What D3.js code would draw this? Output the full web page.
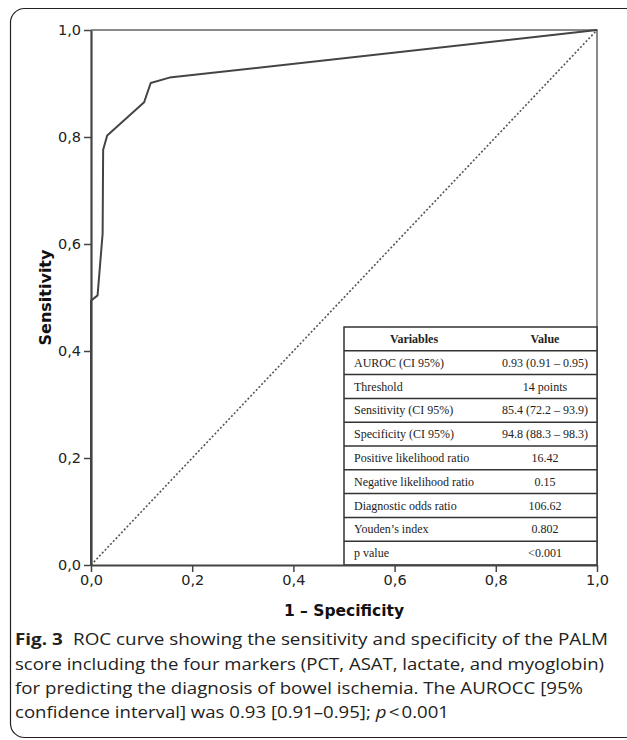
<!DOCTYPE html>
<html>
<head>
<meta charset="utf-8">
<script src="https://cdn.jsdelivr.net/npm/d3@7"></script>
<style>
  html, body { margin: 0; padding: 0; background: #fff; }
  svg { display: block; }
</style>
</head>
<body>
<div id="chart"></div>
<script>
// ROC curve points (1 - specificity, sensitivity)
const fpr  = [0.000, 0.000, 0.013, 0.023, 0.024, 0.032, 0.105, 0.118, 0.155, 1.000];
const sens = [0.000, 0.494, 0.504, 0.620, 0.776, 0.803, 0.865, 0.901, 0.911, 1.000];
const ticks = [0, 0.2, 0.4, 0.6, 0.8, 1.0];

// table contents
const tableHeader = ["Variables", "Value"];
const tableVars = ["AUROC (CI 95%)", "Threshold", "Sensitivity (CI 95%)", "Specificity (CI 95%)",
  "Positive likelihood ratio", "Negative likelihood ratio", "Diagnostic odds ratio",
  "Youden\u2019s index", "p value"];
const tableVals = ["0.93 (0.91 \u2013 0.95)", "14 points", "85.4 (72.2 \u2013 93.9)", "94.8 (88.3 \u2013 98.3)",
  "16.42", "0.15", "106.62", "0.802", "<0.001"];

const captionLines = [
  "ROC curve showing the sensitivity and specificity of the PALM",
  "score including the four markers (PCT, ASAT, lactate, and myoglobin)",
  "for predicting the diagnosis of bowel ischemia. The AUROCC [95%",
  "confidence interval] was 0.93 [0.91\u20130.95]; "
];

const W = 627, H = 740;
const svg = d3.select("#chart").append("svg")
  .attr("width", W).attr("height", H);

svg.append("rect").attr("width", W).attr("height", H).attr("fill", "#fff");

// outer rounded panel (runs off the right edge)
svg.append("rect")
  .attr("x", 10.5).attr("y", 8.5)
  .attr("width", 660).attr("height", 729)
  .attr("rx", 14).attr("ry", 14)
  .attr("fill", "none").attr("stroke", "#222").attr("stroke-width", 1.2);

const x = d3.scaleLinear().domain([0, 1]).range([91, 597]);
const y = d3.scaleLinear().domain([0, 1]).range([565, 30]);
const fmt = d => d.toFixed(1).replace(".", ",");

// frame top / right
svg.append("path")
  .attr("d", `M${x(0)},${y(1)}H${x(1)}V${y(0)}`)
  .attr("fill", "none").attr("stroke", "#666").attr("stroke-width", 1.5);

// diagonal reference
svg.append("line")
  .attr("x1", x(0)).attr("y1", y(0)).attr("x2", x(1)).attr("y2", y(1))
  .attr("stroke", "#555").attr("stroke-width", 1.6)
  .attr("stroke-dasharray", "2,2");

// ROC curve
const line = d3.line().x((d, i) => x(fpr[i])).y((d, i) => y(sens[i]));
svg.append("path")
  .datum(fpr)
  .attr("d", line)
  .attr("fill", "none").attr("stroke", "#444").attr("stroke-width", 2)
  .attr("stroke-linejoin", "round");

// table
const tx0 = x(0.5), tx1 = x(1), ty0 = 327, ty1 = y(0);
const rowH = (ty1 - ty0) / (tableVars.length + 1);
const tbl = svg.append("g");
tbl.append("rect")
  .attr("x", tx0).attr("y", ty0).attr("width", tx1 - tx0).attr("height", ty1 - ty0)
  .attr("fill", "#fff").attr("stroke", "#333").attr("stroke-width", 1.5);
tbl.selectAll("line.row")
  .data(d3.range(1, tableVars.length + 1))
  .join("line")
    .attr("class", "row")
    .attr("x1", tx0).attr("x2", tx1)
    .attr("y1", i => ty0 + i * rowH).attr("y2", i => ty0 + i * rowH)
    .attr("stroke", "#333").attr("stroke-width", 1.5);

const colL = tx0 + 10, colLc = 414, colRc = 545;
tbl.append("text").attr("x", colLc).attr("y", ty0 + rowH / 2 + 4)
  .attr("text-anchor", "middle").attr("font-weight", "bold").text(tableHeader[0]);
tbl.append("text").attr("x", colRc).attr("y", ty0 + rowH / 2 + 4)
  .attr("text-anchor", "middle").attr("font-weight", "bold").text(tableHeader[1]);
tbl.selectAll("text.var")
  .data(tableVars)
  .join("text")
    .attr("class", "var")
    .attr("x", colL)
    .attr("y", (d, i) => ty0 + (i + 1.5) * rowH + 4)
    .text(d => d);
tbl.selectAll("text.val")
  .data(tableVals)
  .join("text")
    .attr("class", "val")
    .attr("x", colRc)
    .attr("text-anchor", "middle")
    .attr("y", (d, i) => ty0 + (i + 1.5) * rowH + 4)
    .text(d => d);
tbl.selectAll("text")
  .attr("font-family", "'Liberation Serif', 'DejaVu Serif', serif")
  .attr("font-size", 12).attr("fill", "#222");

// axes
const yAxis = svg.append("g")
  .attr("transform", `translate(${x(0)},0)`)
  .call(d3.axisLeft(y).tickValues(ticks).tickFormat(fmt).tickSize(7).tickSizeOuter(0).tickPadding(3));
const xAxis = svg.append("g")
  .attr("transform", `translate(0,${y(0)})`)
  .call(d3.axisBottom(x).tickValues(ticks).tickFormat(fmt).tickSize(7).tickSizeOuter(0).tickPadding(3));
[xAxis, yAxis].forEach(g => {
  g.select(".domain").attr("stroke", "#444").attr("stroke-width", 2.2);
  g.selectAll(".tick line").attr("stroke", "#444").attr("stroke-width", 1.5);
  g.selectAll(".tick text")
    .attr("font-family", "'DejaVu Sans', sans-serif")
    .attr("font-size", 14.5).attr("fill", "#222");
});

// axis titles
svg.append("text")
  .attr("transform", `translate(51,${(y(0) + y(1)) / 2}) rotate(-90)`)
  .attr("text-anchor", "middle")
  .attr("font-family", "'DejaVu Sans', sans-serif")
  .attr("font-weight", "bold").attr("font-size", 16).attr("fill", "#111")
  .text("Sensitivity");
svg.append("text")
  .attr("x", (x(0) + x(1)) / 2).attr("y", 616)
  .attr("text-anchor", "middle")
  .attr("font-family", "'DejaVu Sans', sans-serif")
  .attr("font-weight", "bold").attr("font-size", 15.5).attr("fill", "#111")
  .text("1 \u2013 Specificity");

// caption
const capY = [645, 670, 694, 718];
const capLen = [593, 589, 568, 434];
const cap = svg.append("g")
  .attr("font-family", "'Open Sans', 'Noto Sans', sans-serif")
  .attr("font-size", 16.5).attr("fill", "#222");
captionLines.forEach((t, i) => {
  const tx = cap.append("text").attr("x", 15).attr("y", capY[i])
    .attr("textLength", capLen[i]).attr("lengthAdjust", "spacingAndGlyphs");
  if (i === 0) {
    tx.append("tspan").attr("font-weight", "bold").text("Fig. 3");
    tx.append("tspan").attr("dx", 9).text(t);
  } else if (i === 3) {
    tx.append("tspan").text(t);
    tx.append("tspan").attr("font-style", "italic").text("p");
    tx.append("tspan").attr("dx", 2).text("<");
    tx.append("tspan").attr("dx", 2).text("0.001");
  } else {
    tx.text(t);
  }
});
</script>
</body>
</html>
